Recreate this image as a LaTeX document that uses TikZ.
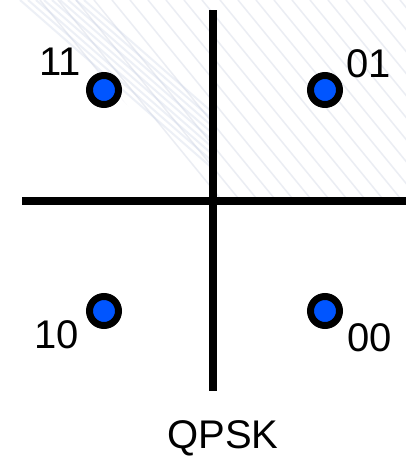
\documentclass[tikz,border=0pt]{standalone}
\usepackage{fontspec}
\setmainfont{Liberation Sans}
\definecolor{dotblue}{RGB}{0,85,255}
\definecolor{streak}{RGB}{205,212,226}
\definecolor{bandc}{RGB}{196,206,228}
\begin{document}
\begin{tikzpicture}[x=1pt,y=-1pt,
  axis/.style={line width=8pt},
  pt/.style={circle,draw=black,fill=dotblue,line width=7pt,minimum size=29pt,inner sep=0pt},
  lab/.style={font=\fontsize{40}{46}\selectfont,inner sep=0pt},
  streakline/.style={draw=streak,line width=1.5pt,opacity=0.4},
  bandline/.style={draw=bandc,line width=2pt,opacity=0.3}]
\useasboundingbox (0,0) rectangle (406,458);
\fill[white] (0,0) rectangle (406,458);
% faint background texture
\begin{scope}
\clip (30,0) -- (406,0) -- (406,200) -- (215,200) -- cycle;
\foreach \s in {40,58,...,420}{
  \draw[streakline] (\s,0) -- ++(180,220);
}
\end{scope}
\begin{scope}
\clip (0,0) rectangle (213,200);
\foreach \s in {20,28,...,84}{
  \draw[bandline] (\s,0) -- ++(200,175);
}
\end{scope}
\coordinate (vt) at (213,10);
\coordinate (vb) at (213,391);
\coordinate (hl) at (22,201);
\coordinate (hr) at (406,201);
\draw[axis] (vt) -- (vb);
\draw[axis] (hl) -- (hr);
\node[pt] (p11) at (104,90) {};
\node[pt] (p01) at (325,90) {};
\node[pt] (p10) at (104,311) {};
\node[pt] (p00) at (325,311) {};
\node[lab] (l11) at (60,62) {11};
\node[lab] (l01) at (369,64) {01};
\node[lab] (l10) at (57,335) {10};
\node[lab] (l00) at (370,338) {00};
\node[lab] (q) at (223,438) {QPSK};
\end{tikzpicture}
\end{document}
